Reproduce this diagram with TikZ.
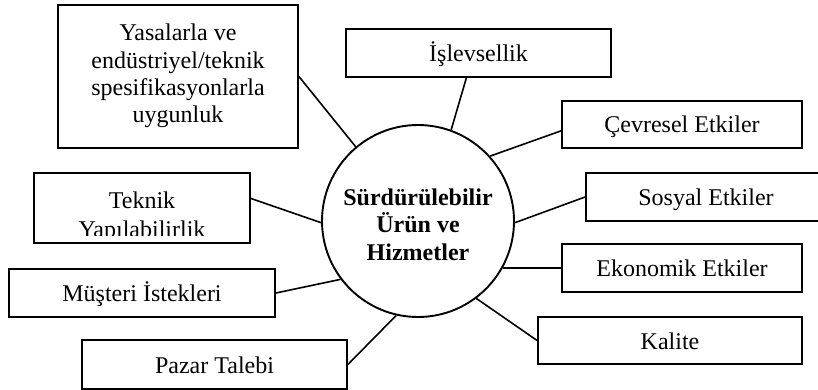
\documentclass[tikz,border=0pt]{standalone}
\usepackage{fontspec}
\setmainfont{Liberation Serif}
\begin{document}
\begin{tikzpicture}[x=1pt,y=-1pt,
  box/.style={draw,line width=1.8pt,rectangle,inner sep=0pt,
    font=\fontsize{24}{27.3}\selectfont,text height=17pt,text depth=0pt},
  multi/.style={align=center,inner sep=0pt,font=\fontsize{24}{27.3}\selectfont},
  link/.style={line width=1.6pt},
  hub/.style={draw,circle,line width=1.9pt,minimum size=192pt,inner sep=0pt}]
\useasboundingbox (0,0) rectangle (818,390);
\clip (0,0) rectangle (818,390);

% hub
\node[hub] (c) at (418,221) {};
\node[multi,font=\fontsize{24}{27.5}\selectfont\bfseries] (ct) at (418,224.3)
  {Sürdürülebilir\\Ürün ve\\Hizmetler};

% boxes
\node[box,minimum width=240pt,minimum height=143pt] (yas) at (178,76.5) {};
\node[multi] (yast) at (178,76)
  {Yasalarla ve\\endüstriyel/teknik\\spesifikasyonlarla\\uygunluk};

\node[box,minimum width=265pt,minimum height=48pt] (isl) at (478.5,53) {İşlevsellik};
\node[box,minimum width=240pt,minimum height=47pt] (cev) at (682,124.5) {Çevresel Etkiler};
\node[box,minimum width=240pt,minimum height=48pt] (sos) at (706,197) {Sosyal Etkiler};
\node[box,minimum width=240pt,minimum height=48pt] (eko) at (682,268) {Ekonomik Etkiler};
\node[box,minimum width=264pt,minimum height=47pt] (kal) at (670,340.5) {Kalite};

\node[box,minimum width=216pt,minimum height=70pt] (tek) at (142,208) {};
\begin{scope}
  \clip (34,172) rectangle (250,235);
  \node[multi,font=\fontsize{24}{29}\selectfont] (tekt) at (142,217)
    {Teknik\\Yapılabilirlik};
\end{scope}

\node[box,minimum width=266pt,minimum height=48pt] (mus) at (142,293) {Müşteri İstekleri};
\node[box,minimum width=265pt,minimum height=49pt] (paz) at (214.5,364.5) {Pazar Talebi};

% connectors
\draw[link] (yas.east) -- (c.130);
\draw[link] (isl.244) -- (c.70);
\draw[link] (cev.183) -- (c.42);
\draw[link] (sos.west) -- (c.-1);
\draw[link] (eko.west) -- (c.-29);
\draw[link] (kal.west) -- (c.-53);
\draw[link] (tek.5) -- (c.181);
\draw[link] (mus.east) -- (c.217);
\draw[link] (paz.east) -- (c.257);
\end{tikzpicture}
\end{document}
